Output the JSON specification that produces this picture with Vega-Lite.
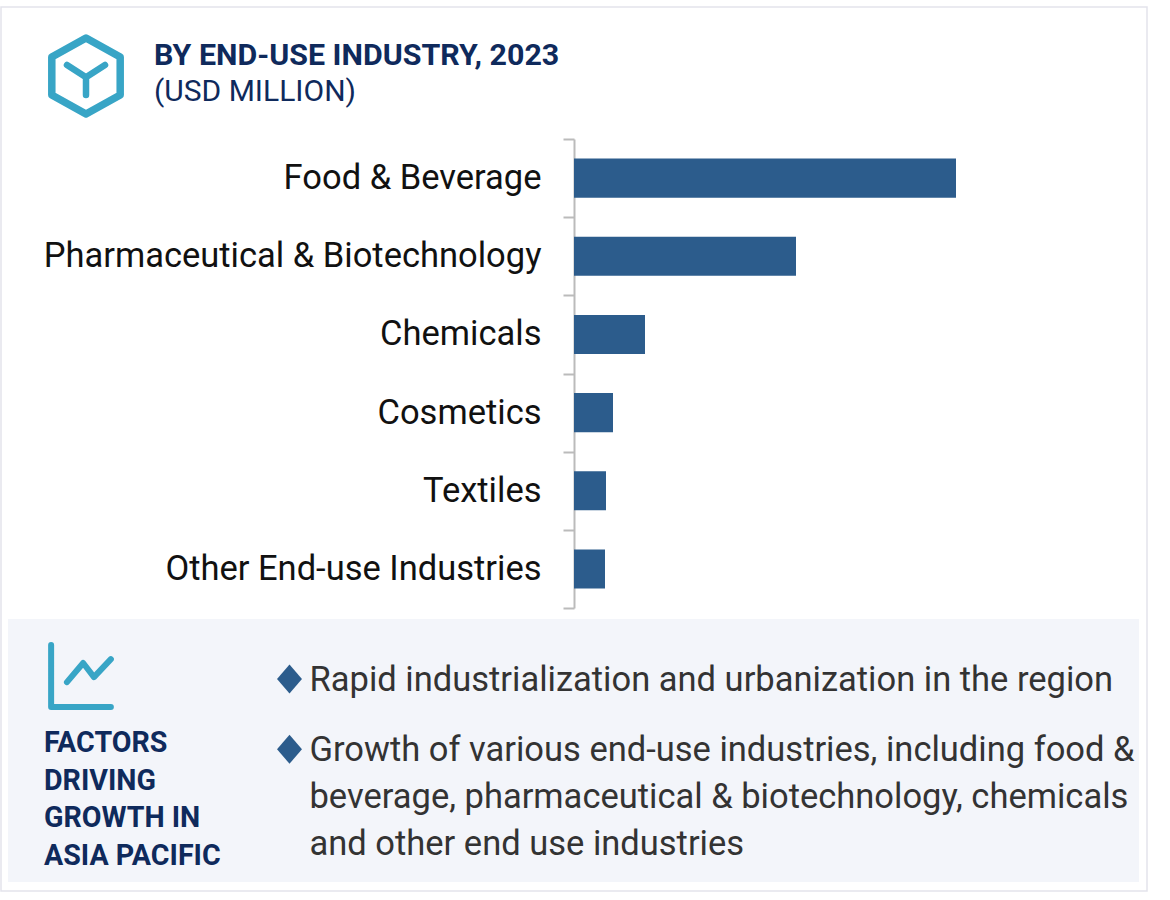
{
"$schema":"https://vega.github.io/schema/vega-lite/v6.json",
"width":560,"height":469,
"autosize":{"type":"none"},
"padding":{"left":574,"top":139,"right":36,"bottom":292},
"background":"#ffffff",
"config":{"view":{"stroke":null},"font":"Roboto"},
"title":{"text":"BY END-USE INDUSTRY, 2023","subtitle":"(USD MILLION)","anchor":"start","frame":"group","dx":-420,"offset":-101,"font":"Roboto","fontSize":30.4,"fontWeight":"bold","color":"#0f2a5c","subtitleFont":"Roboto","subtitleFontSize":30,"subtitleColor":"#0f2a5c","subtitlePadding":6},
"resolve":{"scale":{"y":"independent"}},
"layer":[
{"data":{"values":[{"part":"frame"}]},"mark":{"type":"rect","fill":"transparent","stroke":"#e3e3ec","strokeWidth":1.5},
 "encoding":{"x":{"value":-573},"x2":{"value":573},"y":{"value":-132},"y2":{"value":752}}},
{"data":{"values":[{"part":"panel"}]},"mark":{"type":"rect","fill":"#f3f5fa"},
 "encoding":{"x":{"value":-566},"x2":{"value":565},"y":{"value":480},"y2":{"value":743}}},
{"data":{"values":[
 {"industry":"Food & Beverage","value":382},
 {"industry":"Pharmaceutical & Biotechnology","value":222},
 {"industry":"Chemicals","value":71},
 {"industry":"Cosmetics","value":39},
 {"industry":"Textiles","value":32},
 {"industry":"Other End-use Industries","value":31}]},
 "mark":{"type":"bar","color":"#2c5c8c","height":{"band":0.5}},
 "encoding":{
  "y":{"field":"industry","type":"nominal","sort":null,"title":null,
   "scale":{"paddingInner":0,"paddingOuter":0},
   "axis":{"domainColor":"#bbbbbb","domainWidth":2,"tickColor":"#bbbbbb","tickWidth":2,"tickSize":11,"tickBand":"extent","labelFont":"Roboto","labelFontSize":34.5,"labelColor":"#111111","labelPadding":22,"labelLimit":600,"labelOffset":0.5}},
  "x":{"field":"value","type":"quantitative","axis":null,"scale":{"domain":[0,560]}}}},
{"data":{"values":[{"icon":"hexagon"}]},"mark":{"type":"point","filled":false,"stroke":"#38a5c6","strokeWidth":7.5,"strokeJoin":"round","shape":"M0,-1L0.9,-0.5L0.9,0.5L0,1L-0.9,0.5L-0.9,-0.5Z","size":5776,"opacity":1},
 "encoding":{"x":{"value":-488},"y":{"value":-63}}},
{"data":{"values":[{"icon":"y"}]},"mark":{"type":"point","filled":false,"stroke":"#38a5c6","strokeWidth":6.5,"strokeCap":"round","strokeJoin":"round","shape":"M-0.5,-0.29L0,0.03L0.5,-0.29M0,0.03L0,0.5","size":5776,"opacity":1},
 "encoding":{"x":{"value":-488},"y":{"value":-63}}},
{"data":{"values":[{"icon":"chart"}]},"mark":{"type":"point","filled":false,"stroke":"#38a5c6","strokeWidth":6,"strokeCap":"round","strokeJoin":"round","shape":"M-0.83,-0.86L-0.83,0.86L0.83,0.86M-0.39,0.17L0.06,-0.36L0.36,0.03L0.83,-0.47","size":5184,"opacity":1},
 "encoding":{"x":{"value":-493},"y":{"value":537}}},
{"data":{"values":[{"line":1,"text":"FACTORS"},{"line":2,"text":"DRIVING"},{"line":3,"text":"GROWTH IN"},{"line":4,"text":"ASIA PACIFIC"}]},
 "mark":{"type":"text","align":"left","baseline":"middle","font":"Roboto","fontWeight":"bold","fontSize":28.6,"color":"#0f2a5c"},
 "encoding":{"x":{"value":-530},"y":{"field":"line","type":"quantitative","axis":null,"scale":{"domain":[1,4],"range":[604,716.5],"zero":false,"nice":false}},"text":{"field":"text"}}},
{"data":{"values":[{"line":1},{"line":2.5}]},
 "mark":{"type":"point","filled":true,"fill":"#2c5c8c","stroke":null,"shape":"M0,-1L0.86,0L0,1L-0.86,0Z","size":841,"opacity":1},
 "encoding":{"x":{"value":-284.5},"y":{"field":"line","type":"quantitative","axis":null,"scale":{"domain":[1,4.5],"range":[540,704],"zero":false,"nice":false}}}},
{"data":{"values":[{"line":1,"text":"Rapid industrialization and urbanization in the region"},{"line":2.5,"text":"Growth of various end-use industries, including food &"},{"line":3.5,"text":"beverage, pharmaceutical & biotechnology, chemicals"},{"line":4.5,"text":"and other end use industries"}]},
 "mark":{"type":"text","align":"left","baseline":"middle","font":"Roboto","fontSize":34.5,"color":"#333333"},
 "encoding":{"x":{"value":-264.5},"y":{"field":"line","type":"quantitative","axis":null,"scale":{"domain":[1,4.5],"range":[542,706],"zero":false,"nice":false}},"text":{"field":"text"}}}
]
}
